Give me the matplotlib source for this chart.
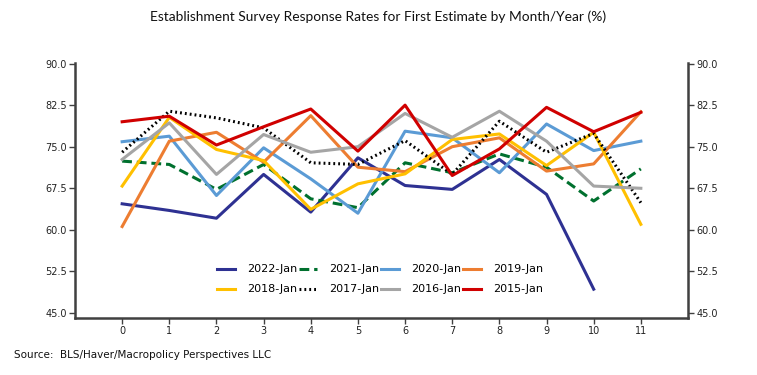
import matplotlib.pyplot as plt

months = list(range(12))

y2022 = [64.7, 63.5, 62.1, 70.0, 63.2, 73.0, 68.0, 67.3, 72.7, 66.4, 49.3]
y2021 = [72.4, 71.8, 67.3, 71.8, 65.6, 64.0, 72.1, 70.3, 73.7, 71.3, 65.2, 71.0]
y2020 = [75.9, 76.9, 66.2, 74.8, 69.2, 63.0, 77.8, 76.6, 70.3, 79.1, 74.3, 76.0]
y2019 = [60.6, 76.0, 77.6, 72.2, 80.6, 71.3, 70.5, 75.0, 76.6, 70.6, 71.9, 81.3]
y2018 = [67.9, 80.3, 74.5, 72.5, 63.7, 68.3, 70.1, 76.3, 77.3, 71.6, 77.6, 61.0]
y2017 = [74.0, 81.4, 80.2, 78.4, 72.1, 71.8, 76.1, 70.0, 79.6, 74.0, 77.4, 64.9]
y2016 = [72.7, 79.3, 70.0, 77.2, 74.0, 75.0, 81.0, 76.7, 81.4, 76.0, 67.9, 67.5]
y2015 = [79.5, 80.5, 75.3, 78.6, 81.8, 74.2, 82.5, 69.8, 74.6, 82.1, 77.7, 81.2]

series = [
    ("2022-Jan", y2022, "#2E3192", "-"),
    ("2021-Jan", y2021, "#00702E", (0, (3.2, 1.6))),
    ("2020-Jan", y2020, "#5B9BD5", "-"),
    ("2019-Jan", y2019, "#ED7D31", "-"),
    ("2018-Jan", y2018, "#FFC000", "-"),
    ("2017-Jan", y2017, "#000000", (0, (0.6, 1.0))),
    ("2016-Jan", y2016, "#A5A5A5", "-"),
    ("2015-Jan", y2015, "#D00000", "-"),
]

yticks = [45.0, 52.5, 60.0, 67.5, 75.0, 82.5, 90.0]
source = "Source:  BLS/Haver/Macropolicy Perspectives LLC"
title = "Establishment Survey Response Rates for First Estimate by Month/Year (%)"

fig = plt.figure(figsize=(7.57, 3.75), dpi=100)
ax = fig.add_axes([75 / 757, 1 - 318 / 375, 613 / 757, 255 / 375])

handles = {}
for name, vals, color, ls in series:
    (h,) = ax.plot(months[:len(vals)], vals, color=color, ls=ls, lw=2.2, label=name)
    handles[name] = h

ax.set_xlim(-1, 12)
ax.set_ylim(44.1, 90.1)
ax.set_xticks(months)
ax.set_yticks(yticks)
ax.set_yticklabels([f"{t:.1f}" for t in yticks])

spine_c = "#404040"
for s in ["left", "right", "bottom"]:
    ax.spines[s].set_color(spine_c)
    ax.spines[s].set_linewidth(1.8)
ax.spines["top"].set_visible(False)
ax.tick_params(axis="both", direction="out", color=spine_c, width=1, length=4,
               labelsize=7, labelcolor="#222222", pad=2)
ax.tick_params(axis="y", right=True, labelright=True, left=True, labelleft=True)

# legend fills by column, so interleave to get the row order of the original
order = ["2022-Jan", "2018-Jan", "2021-Jan", "2017-Jan",
         "2020-Jan", "2016-Jan", "2019-Jan", "2015-Jan"]
ax.legend([handles[n] for n in order], order, ncol=4, frameon=False,
          fontsize=8, loc="center", bbox_to_anchor=(0.498, 0.151),
          handlelength=1.6, handletextpad=1.1, columnspacing=0.15,
          labelspacing=0.9)

fig.text(0.5, 1 - 17 / 375, title, ha="center", va="center",
         fontsize=9.9, family="Lato", color="#111111")
fig.text(14 / 757, 1 - 355 / 375, source, ha="left", va="center",
         fontsize=7.5, color="#111111")

fig.savefig("out.png", dpi=100)
